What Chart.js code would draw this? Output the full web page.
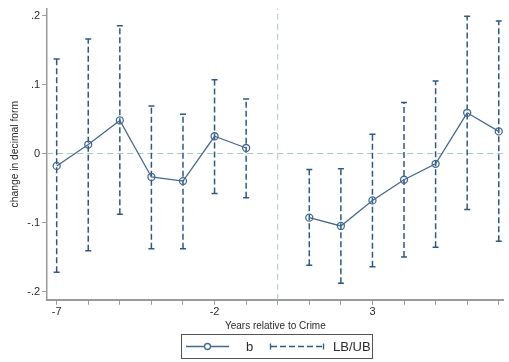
<!DOCTYPE html>
<html>
<head>
<meta charset="utf-8">
<script src="https://cdn.jsdelivr.net/npm/chart.js@4.4.0/dist/chart.umd.min.js"></script>
<style>
  html, body { margin: 0; padding: 0; background: #fff; }
  #wrap { width: 509px; height: 362px; position: relative; }
</style>
</head>
<body>
<div id="wrap"><canvas id="myChart"></canvas></div>
<script>
// years relative to crime (0 is the omitted year)
const years = [-7, -6, -5, -4, -3, -2, -1, 0, 1, 2, 3, 4, 5, 6, 7];
const b  = [-0.018, 0.013, 0.048, -0.034, -0.040, 0.025, 0.008, null, -0.093, -0.105, -0.068, -0.038, -0.015, 0.059, 0.032];
const lb = [-0.172, -0.141, -0.088, -0.138, -0.138, -0.058, -0.064, null, -0.162, -0.188, -0.164, -0.150, -0.136, -0.081, -0.127];
const ub = [0.137, 0.166, 0.185, 0.069, 0.057, 0.107, 0.079, null, -0.023, -0.022, 0.028, 0.074, 0.105, 0.199, 0.192];
const xTicks = [-7, -6, -5, -4, -3, -2, -1, 0, 1, 2, 3, 4, 5, 6, 7];
const xLabels = [-7, -2, 3];
const yTicks = [-0.2, -0.1, 0, 0.1, 0.2];

const blue = "#44698f";
const darkBlue = "#2e5880";
const refColor = "#a9c9bd";
const axisColor = "#9a9a9a";
const textColor = "#2a2a2a";
const font = "'Liberation Sans', Arial, sans-serif";

const xMin = -7.3, xMax = 7.15, yMin = -0.212, yMax = 0.21;

const bPoints = years.map((x, i) => ({ x: x, y: b[i] }));
const barPoints = [];
years.forEach((x, i) => {
    if (lb[i] === null) return;
    barPoints.push({ x: x, y: lb[i] }, { x: x, y: ub[i] }, { x: x, y: null });
});

function fmtY(v) {
    if (Math.abs(v) < 1e-9) return "0";
    return (v < 0 ? "-" : "") + String(Math.abs(v)).replace(/^0/, "");
}

const legendBox = {
    id: "legendBox",
    afterDraw(chart) {
        const c = chart.ctx;
        c.save();
        c.strokeStyle = "#555";
        c.lineWidth = 1;
        c.strokeRect(181.5, 334.5, 191, 24);
        // b symbol
        c.strokeStyle = blue;
        c.lineWidth = 1.3;
        c.beginPath(); c.moveTo(186, 346.5); c.lineTo(229, 346.5); c.stroke();
        c.fillStyle = "#fff";
        c.beginPath(); c.arc(207.5, 346.5, 3, 0, Math.PI * 2); c.fill(); c.stroke();
        // LB/UB symbol
        c.strokeStyle = darkBlue;
        c.setLineDash([6, 3]);
        c.beginPath(); c.moveTo(271, 346.5); c.lineTo(323, 346.5); c.stroke();
        c.setLineDash([]);
        c.beginPath();
        c.moveTo(270.5, 343.5); c.lineTo(270.5, 349.5);
        c.moveTo(323.5, 343.5); c.lineTo(323.5, 349.5);
        c.stroke();
        c.fillStyle = textColor;
        c.font = "13px " + font;
        c.textBaseline = "middle";
        c.fillText("b", 246, 347);
        c.fillText("LB/UB", 333, 347);
        c.restore();
    }
};

const ctx = document.getElementById("myChart");
new Chart(ctx, {
    type: "line",
    data: {
        datasets: [{
            label: "b",
            data: bPoints,
            borderColor: blue,
            borderWidth: 1.3,
            pointStyle: "circle",
            pointRadius: 3.5,
            pointBorderWidth: 1.3,
            pointBackgroundColor: "rgba(0,0,0,0)",
            pointBorderColor: blue,
            spanGaps: false,
            tension: 0,
            order: 1
        }, {
            label: "LB/UB",
            data: barPoints,
            borderColor: darkBlue,
            borderWidth: 1.5,
            borderDash: [6, 3],
            pointStyle: "line",
            pointRadius: 3,
            pointBorderWidth: 1.5,
            pointBorderColor: darkBlue,
            spanGaps: false,
            order: 2
        }, {
            label: "ref0",
            data: [{ x: xMin, y: 0 }, { x: xMax, y: 0 }],
            borderColor: refColor,
            borderWidth: 1,
            borderDash: [6, 4],
            pointRadius: 0,
            order: 3
        }, {
            label: "refx",
            data: [{ x: 0, y: yMin }, { x: 0, y: yMax }],
            borderColor: refColor,
            borderWidth: 1,
            borderDash: [6, 4],
            pointRadius: 0,
            order: 3
        }]
    },
    options: {
        responsive: true,
        maintainAspectRatio: false,
        animation: false,
        layout: { padding: { left: 9, right: 0, top: 7, bottom: 30 } },
        plugins: {
            legend: { display: false },
            tooltip: { enabled: false }
        },
        scales: {
            x: {
                type: "linear",
                min: xMin,
                max: xMax,
                afterBuildTicks(scale) { scale.ticks = xTicks.map(v => ({ value: v })); },
                ticks: {
                    autoSkip: false,
                    maxRotation: 0,
                    color: textColor,
                    font: { family: font, size: 11 },
                    padding: 1,
                    callback: v => xLabels.includes(v) ? String(v) : ""
                },
                grid: { drawOnChartArea: false, drawTicks: true, tickLength: 5, color: axisColor },
                border: { color: axisColor, width: 2 },
                title: { display: true, text: "Years relative to Crime", color: textColor, font: { family: font, size: 10 }, padding: { top: 0, bottom: 0 } }
            },
            y: {
                min: yMin,
                max: yMax,
                afterBuildTicks(scale) { scale.ticks = yTicks.map(v => ({ value: v })); },
                ticks: {
                    color: textColor,
                    font: { family: font, size: 11 },
                    padding: 2,
                    callback: v => fmtY(v)
                },
                grid: { drawOnChartArea: false, drawTicks: true, tickLength: 5, color: axisColor },
                border: { color: axisColor, width: 1.5 },
                title: { display: true, text: "change in decimal form", color: textColor, font: { family: font, size: 10.3 }, padding: { top: 0, bottom: 4 } }
            }
        }
    },
    plugins: [legendBox]
});
</script>
</body>
</html>
